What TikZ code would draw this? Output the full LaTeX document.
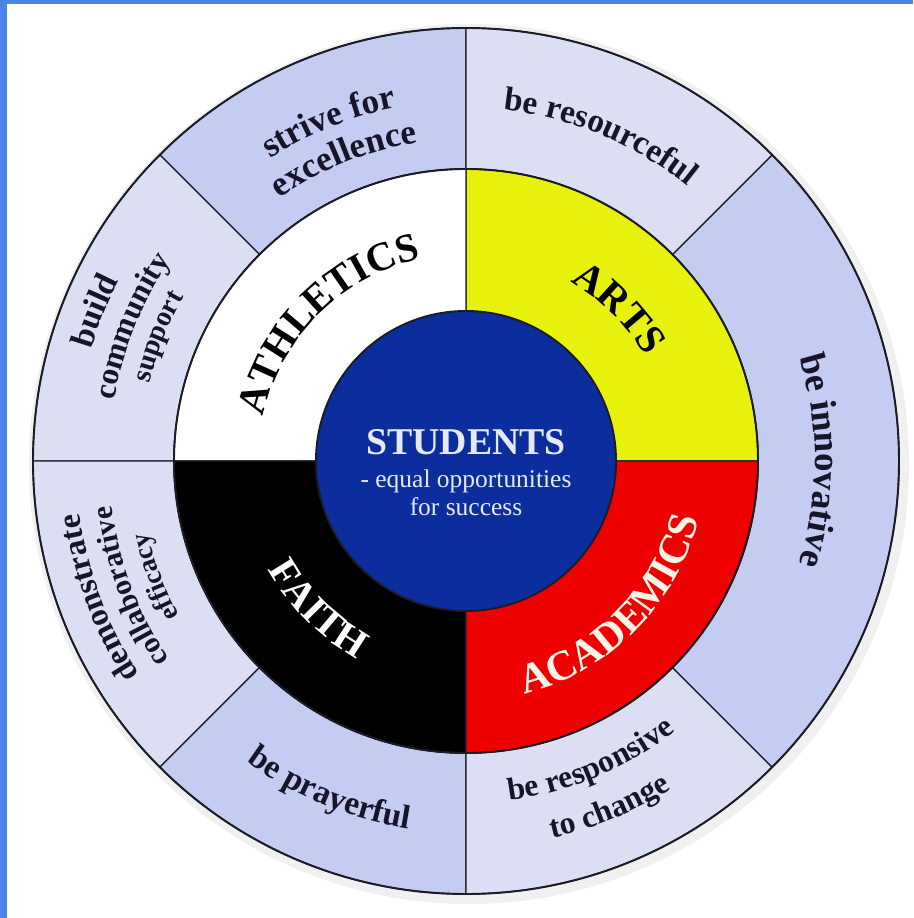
\documentclass[tikz,border=0pt]{standalone}
\usepackage{fontspec}
\setmainfont{Liberation Serif}
\usepackage{tikz}
\usetikzlibrary{decorations.text}
\definecolor{ringdark}{RGB}{196,204,242}
\definecolor{ringlight}{RGB}{220,223,244}
\definecolor{artsyellow}{RGB}{232,241,12}
\definecolor{acadred}{RGB}{238,0,0}
\definecolor{studblue}{RGB}{12,45,158}
\definecolor{frameblue}{RGB}{74,134,232}
\definecolor{rimgray}{RGB}{28,28,38}
\definecolor{inkdark}{RGB}{22,22,40}
\definecolor{cream}{RGB}{255,243,232}
\definecolor{palefont}{RGB}{228,234,250}
\newcommand{\lfont}[2]{\bfseries\fontsize{#1}{#1}\selectfont\color{#2}}
% text along an arc: radius, from, to, format, text
\newcommand{\arclabel}[5]{%
\path[decorate,decoration={text along path,text align=center,text={|#4|#5}}]
(#2:#1) arc[start angle=#2,end angle=#3,radius=#1];}

\begin{document}
\begin{tikzpicture}[
  edge/.style={draw=rimgray, line width=1.1pt},
  divider/.style={draw=rimgray, line width=0.8pt},
  centretext/.style={text=palefont, anchor=base}]
\useasboundingbox (-9.32,-9.14) rectangle (8.94,9.22);
\fill[white] (-9.32,-9.14) rectangle (8.94,9.22);
\fill[frameblue] (-9.32,-9.14) rectangle (-9.18,9.22);
\fill[frameblue] (-9.32,9.13) rectangle (8.94,9.22);
\fill[black!6] (0.06,-0.06) circle (8.8);
\foreach \a/\b/\c in {90/135/ringdark,135/180/ringlight,180/225/ringlight,225/270/ringdark,
                      270/315/ringlight,315/405/ringdark,45/90/ringlight}
  \filldraw[fill=\c, divider] (\a:5.84) arc[start angle=\a,end angle=\b,radius=5.84]
    -- (\b:8.66) arc[start angle=\b,end angle=\a,radius=8.66] -- cycle;
\foreach \a/\c in {0/artsyellow,90/white,180/black,270/acadred}
  \filldraw[fill=\c, divider] (0,0) -- (\a:5.84) arc[start angle=\a,end angle=\a+90,radius=5.84] -- cycle;
\draw[edge] (0,0) circle (8.66);
\draw[edge] (0,0) circle (5.84);
\filldraw[fill=studblue, edge] (0,0) circle (3);

\node[centretext, font=\bfseries\fontsize{21.5}{21.5}\selectfont] (students) at (0,0.12) {STUDENTS};
\node[centretext, font=\fontsize{14.5}{14.5}\selectfont] (equal) at (0,-0.54) {- equal opportunities};
\node[centretext, font=\fontsize{14.5}{14.5}\selectfont] (success) at (0,-1.08) {for success};

\arclabel{4.15}{178}{92}{\lfont{23}{black}}{ATHLETICS}
\arclabel{4.15}{88}{2}{\lfont{23}{black}}{ARTS}
\arclabel{4.51}{182}{268}{\lfont{23}{white}}{FAITH}
\arclabel{4.8}{272}{358}{\lfont{24}{cream}}{ACADEMICS}

\arclabel{7.2}{134}{90}{\lfont{20}{inkdark}}{strive for}
\arclabel{6.44}{134}{90}{\lfont{20}{inkdark}}{excellence}
\arclabel{7.06}{89}{46}{\lfont{19}{inkdark}}{be resourceful}
\arclabel{6.98}{44}{-44}{\lfont{21}{inkdark}}{be innovative}
\arclabel{7.82}{179}{137}{\lfont{19}{inkdark}}{build}
\arclabel{7.14}{179}{137}{\lfont{18}{inkdark}}{community}
\arclabel{6.52}{179}{137}{\lfont{16}{inkdark}}{support}
\arclabel{7.8}{224}{177}{\lfont{18.5}{inkdark}}{demonstrate}
\arclabel{7.14}{224}{177}{\lfont{17}{inkdark}}{collaborative}
\arclabel{6.52}{224}{177}{\lfont{15.5}{inkdark}}{efficacy}
\arclabel{7.44}{226}{269}{\lfont{19}{inkdark}}{be prayerful}
\arclabel{6.84}{271}{314}{\lfont{18}{inkdark}}{be responsive}
\arclabel{7.74}{271}{314}{\lfont{18}{inkdark}}{to change}
\end{tikzpicture}
\end{document}
